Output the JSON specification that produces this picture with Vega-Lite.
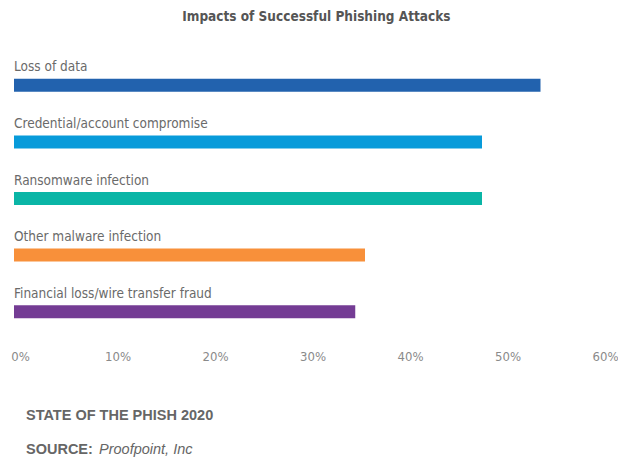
{
  "$schema": "https://vega.github.io/schema/vega-lite/v6.json",
  "padding": {"left": 10, "top": 9, "right": 0, "bottom": 0},
  "background": "white",
  "title": {"text": "Impacts of Successful Phishing Attacks", "font": "DejaVu Sans Condensed, Liberation Sans, sans-serif", "fontSize": 13.5, "fontWeight": "bold", "color": "#555555", "anchor": "middle", "dx": 2, "offset": 20},
  "config": {"view": {"stroke": null}},
  "spacing": 45,
  "vconcat": [
    {
      "width": 585,
      "height": 283,
      "data": {"values": [
        {"impact": "Loss of data", "pct": 54},
        {"impact": "Credential/account compromise", "pct": 48},
        {"impact": "Ransomware infection", "pct": 48},
        {"impact": "Other malware infection", "pct": 36},
        {"impact": "Financial loss/wire transfer fraud", "pct": 35}
      ]},
      "encoding": {
        "y": {"field": "impact", "type": "nominal", "sort": null, "axis": null, "scale": {"paddingInner": 0, "paddingOuter": 0}}
      },
      "layer": [
        {
          "mark": {"type": "bar", "height": 13, "yOffset": 14},
          "encoding": {
            "x": {"field": "pct", "type": "quantitative", "scale": {"domain": [0, 60]},
              "axis": {"values": [0, 10, 20, 30, 40, 50, 60], "labelExpr": "datum.value + '%'", "domain": false, "ticks": false, "grid": false, "title": null, "labelFont": "DejaVu Sans Condensed, Liberation Sans, sans-serif", "labelFontSize": 13, "labelColor": "#8a8a8a", "labelPadding": 24, "labelOffset": 6, "labelFlush": false}},
            "color": {"field": "impact", "type": "nominal", "sort": null, "legend": null,
              "scale": {"domain": ["Loss of data", "Credential/account compromise", "Ransomware infection", "Other malware infection", "Financial loss/wire transfer fraud"], "range": ["#2262ae", "#089bda", "#0ab5a6", "#f8903a", "#743c94"]}}
          }
        },
        {
          "mark": {"type": "text", "align": "left", "baseline": "alphabetic", "font": "DejaVu Sans Condensed, Liberation Sans, sans-serif", "fontSize": 13.5, "color": "#6a6a6a"},
          "encoding": {
            "x": {"datum": 0, "type": "quantitative"},
            "text": {"field": "impact"}
          }
        }
      ]
    },
    {
      "width": 585,
      "height": 34,
      "layer": [
        {
          "data": {"values": [{"row": 1, "label": "STATE OF THE PHISH 2020"}]},
          "mark": {"type": "text", "align": "left", "baseline": "alphabetic", "font": "Liberation Sans", "fontSize": 14.5, "fontWeight": "bold", "color": "#666666", "dx": 12},
          "encoding": {
            "x": {"datum": 0, "type": "quantitative", "scale": {"domain": [0, 60]}, "axis": null},
            "y": {"field": "row", "type": "ordinal", "scale": {"type": "point", "domain": [1, 2], "padding": 0}, "axis": null},
            "text": {"field": "label"}
          }
        },
        {
          "data": {"values": [{"row": 2, "label": "SOURCE:"}]},
          "mark": {"type": "text", "align": "left", "baseline": "alphabetic", "font": "Liberation Sans", "fontSize": 14.5, "fontWeight": "bold", "color": "#666666", "dx": 12},
          "encoding": {
            "x": {"datum": 0, "type": "quantitative"},
            "y": {"field": "row", "type": "ordinal"},
            "text": {"field": "label"}
          }
        },
        {
          "data": {"values": [{"row": 2, "label": "Proofpoint, Inc"}]},
          "mark": {"type": "text", "align": "left", "baseline": "alphabetic", "font": "Liberation Sans", "fontSize": 14.5, "fontStyle": "italic", "color": "#666666", "dx": 85},
          "encoding": {
            "x": {"datum": 0, "type": "quantitative"},
            "y": {"field": "row", "type": "ordinal"},
            "text": {"field": "label"}
          }
        }
      ]
    }
  ]
}
